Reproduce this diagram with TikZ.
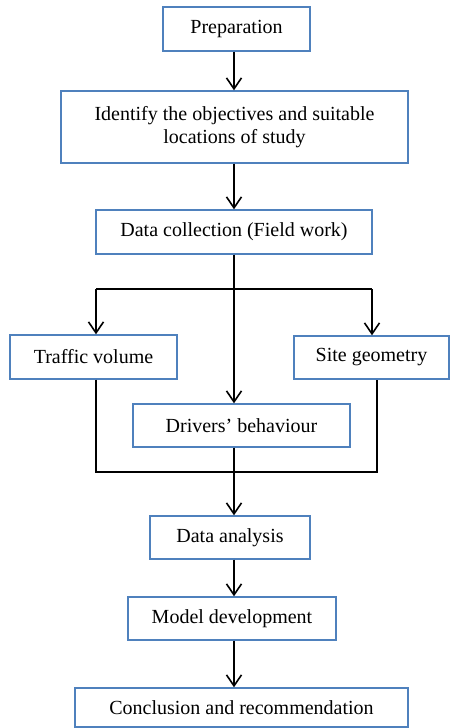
\documentclass[tikz,border=0pt]{standalone}
\usepackage{fontspec}
\setmainfont{Liberation Serif}
\usetikzlibrary{arrows.meta}
\definecolor{boxblue}{HTML}{4F81BD}
\begin{document}
\begin{tikzpicture}[x=1pt,y=-1pt,
  box/.style={draw=boxblue,line width=1.4pt,inner sep=0pt,align=center,
    font=\fontsize{20}{23.5}\selectfont},
  conn/.style={line width=1.6pt,black},
  arr/.style={conn,-{Straight Barb[length=11pt,width=15pt,line width=1.6pt]}}]
\useasboundingbox (0,0) rectangle (450,728);
\node[box,minimum width=147pt,minimum height=44pt] (prep) at (236.5,29) {Preparation};
\node[box,minimum width=347pt,minimum height=72pt] (ident) at (234.5,127) {Identify the objectives and suitable\\locations of study};
\node[box,minimum width=276pt,minimum height=44pt] (data) at (234,232) {Data collection (Field work)};
\node[box,minimum width=167pt,minimum height=44pt] (traffic) at (93.5,357) {Traffic volume};
\node[box,minimum width=155pt,minimum height=43pt] (site) at (371.5,357.5) {Site geometry};
\node[box,minimum width=217pt,minimum height=43pt] (drivers) at (241.5,425.5) {Drivers’ behaviour};
\node[box,minimum width=160pt,minimum height=43pt] (analysis) at (230,537.5) {Data analysis};
\node[box,minimum width=208pt,minimum height=43pt] (model) at (232,618.5) {Model development};
\node[box,minimum width=333pt,minimum height=39pt] (concl) at (241.5,707.5) {Conclusion and recommendation};
\coordinate (spine) at (234,0);
\coordinate (bl) at (96,289);
\coordinate (br) at (372,289);
\coordinate (ml) at (96,472);
\coordinate (mr) at (377,472);
\draw[arr] (prep.south -| spine) -- (ident.north -| spine);
\draw[arr] (ident.south -| spine) -- (data.north -| spine);
\draw[arr] (data.south -| spine) -- (drivers.north -| spine);
\draw[conn] (bl) -- (br);
\draw[arr] (bl) -- (traffic.north -| bl);
\draw[arr] (br) -- (site.north -| br);
\draw[conn] (traffic.south -| ml) -- (ml) -- (mr) -- (site.south -| mr);
\draw[arr] (drivers.south -| spine) -- (analysis.north -| spine);
\draw[arr] (analysis.south -| spine) -- (model.north -| spine);
\draw[arr] (model.south -| spine) -- (concl.north -| spine);
\end{tikzpicture}
\end{document}
